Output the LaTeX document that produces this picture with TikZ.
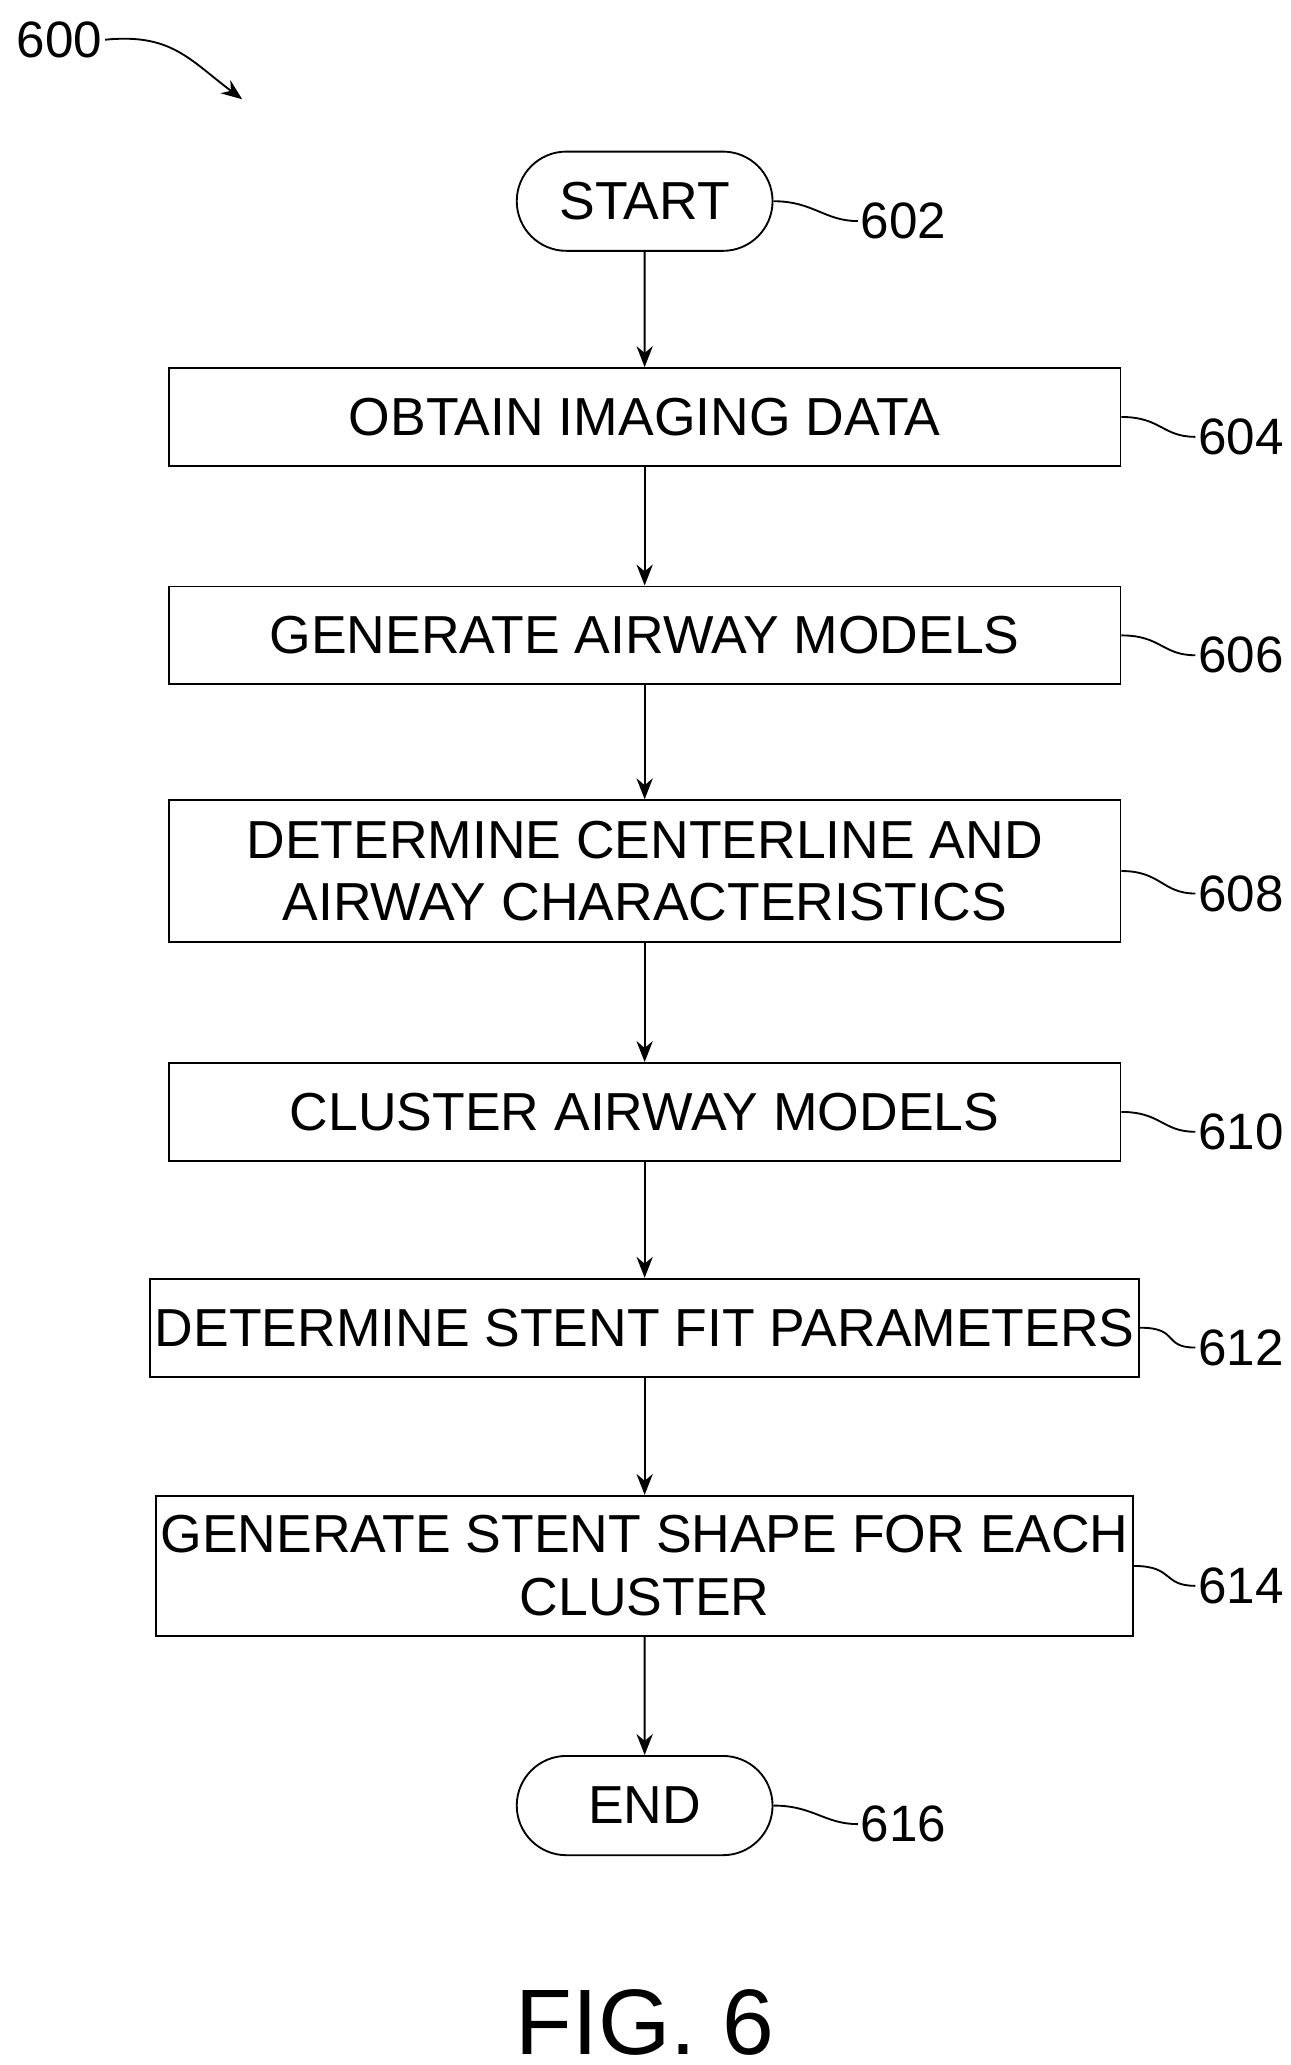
\documentclass[tikz,border=0pt]{standalone}
\usepackage{fontspec}
\setmainfont{Liberation Sans}
\usetikzlibrary{arrows.meta, positioning, shapes.misc}

\tikzset{
  stepbox/.style={draw, thick, minimum width=14.38cm, minimum height=1.48cm, align=center, font=\fontsize{23}{27}\selectfont, inner sep=2pt},
  term/.style={draw, thick, rounded rectangle, minimum width=4.1cm, minimum height=1.5cm, font=\fontsize{23}{27}\selectfont},
  ref/.style={font=\fontsize{22}{26}\selectfont, inner sep=1pt},
  flow/.style={-{Stealth[length=9pt,width=7pt]}, thick},
  lead/.style={thick}
}

\begin{document}
\begin{tikzpicture}[x=0.02cm, y=-0.02cm]
  \useasboundingbox (0,0) rectangle (975,1560);

  % -- Steps --
  \node[term] (start) at (487,152) {START};
  \node[stepbox] (obtain) at (487,315) {OBTAIN IMAGING DATA};
  \node[stepbox] (genmod) at (487,480) {GENERATE AIRWAY MODELS};
  \node[stepbox, minimum height=2.14cm] (center) at (487,658) {DETERMINE CENTERLINE AND\\AIRWAY CHARACTERISTICS};
  \node[stepbox] (cluster) at (487,840) {CLUSTER AIRWAY MODELS};
  \node[stepbox] (fit) at (487,1003) {DETERMINE STENT FIT PARAMETERS};
  \node[stepbox, minimum height=2.12cm] (shape) at (487,1183) {GENERATE STENT SHAPE FOR EACH\\CLUSTER};
  \node[term] (end) at (487,1364) {END};

  % -- Connectors --
  \draw[flow] (start) -- (obtain);
  \draw[flow] (obtain) -- (genmod);
  \draw[flow] (genmod) -- (center);
  \draw[flow] (center) -- (cluster);
  \draw[flow] (cluster) -- (fit);
  \draw[flow] (fit) -- (shape);
  \draw[flow] (shape) -- (end);

  % -- Reference numerals --
  \node[ref, anchor=west] (r602) at (648,167) {602};
  \node[ref, anchor=west] (r604) at (903,330) {604};
  \node[ref, anchor=west] (r606) at (903,495) {606};
  \node[ref, anchor=west] (r608) at (903,675) {608};
  \node[ref, anchor=west] (r610) at (903,855) {610};
  \node[ref, anchor=west] (r612) at (903,1018) {612};
  \node[ref, anchor=west] (r614) at (903,1198) {614};
  \node[ref, anchor=west] (r616) at (648,1378) {616};
  \foreach \b/\r in {start/r602, obtain/r604, genmod/r606, center/r608, cluster/r610, fit/r612, shape/r614, end/r616}
    \draw[lead] (\b.east) .. controls +(30,0) and +(-25,0) .. (\r.west);

  \node[ref] (r600) at (45,30) {600};
  \coordinate (tip600) at (183,75);
  \draw[flow] (r600.east) .. controls +(50,-5) and +(-40,-30) .. (tip600);

  \node[font=\fontsize{40}{46}\selectfont] (fig) at (487,1528) {FIG. 6};
\end{tikzpicture}
\end{document}
